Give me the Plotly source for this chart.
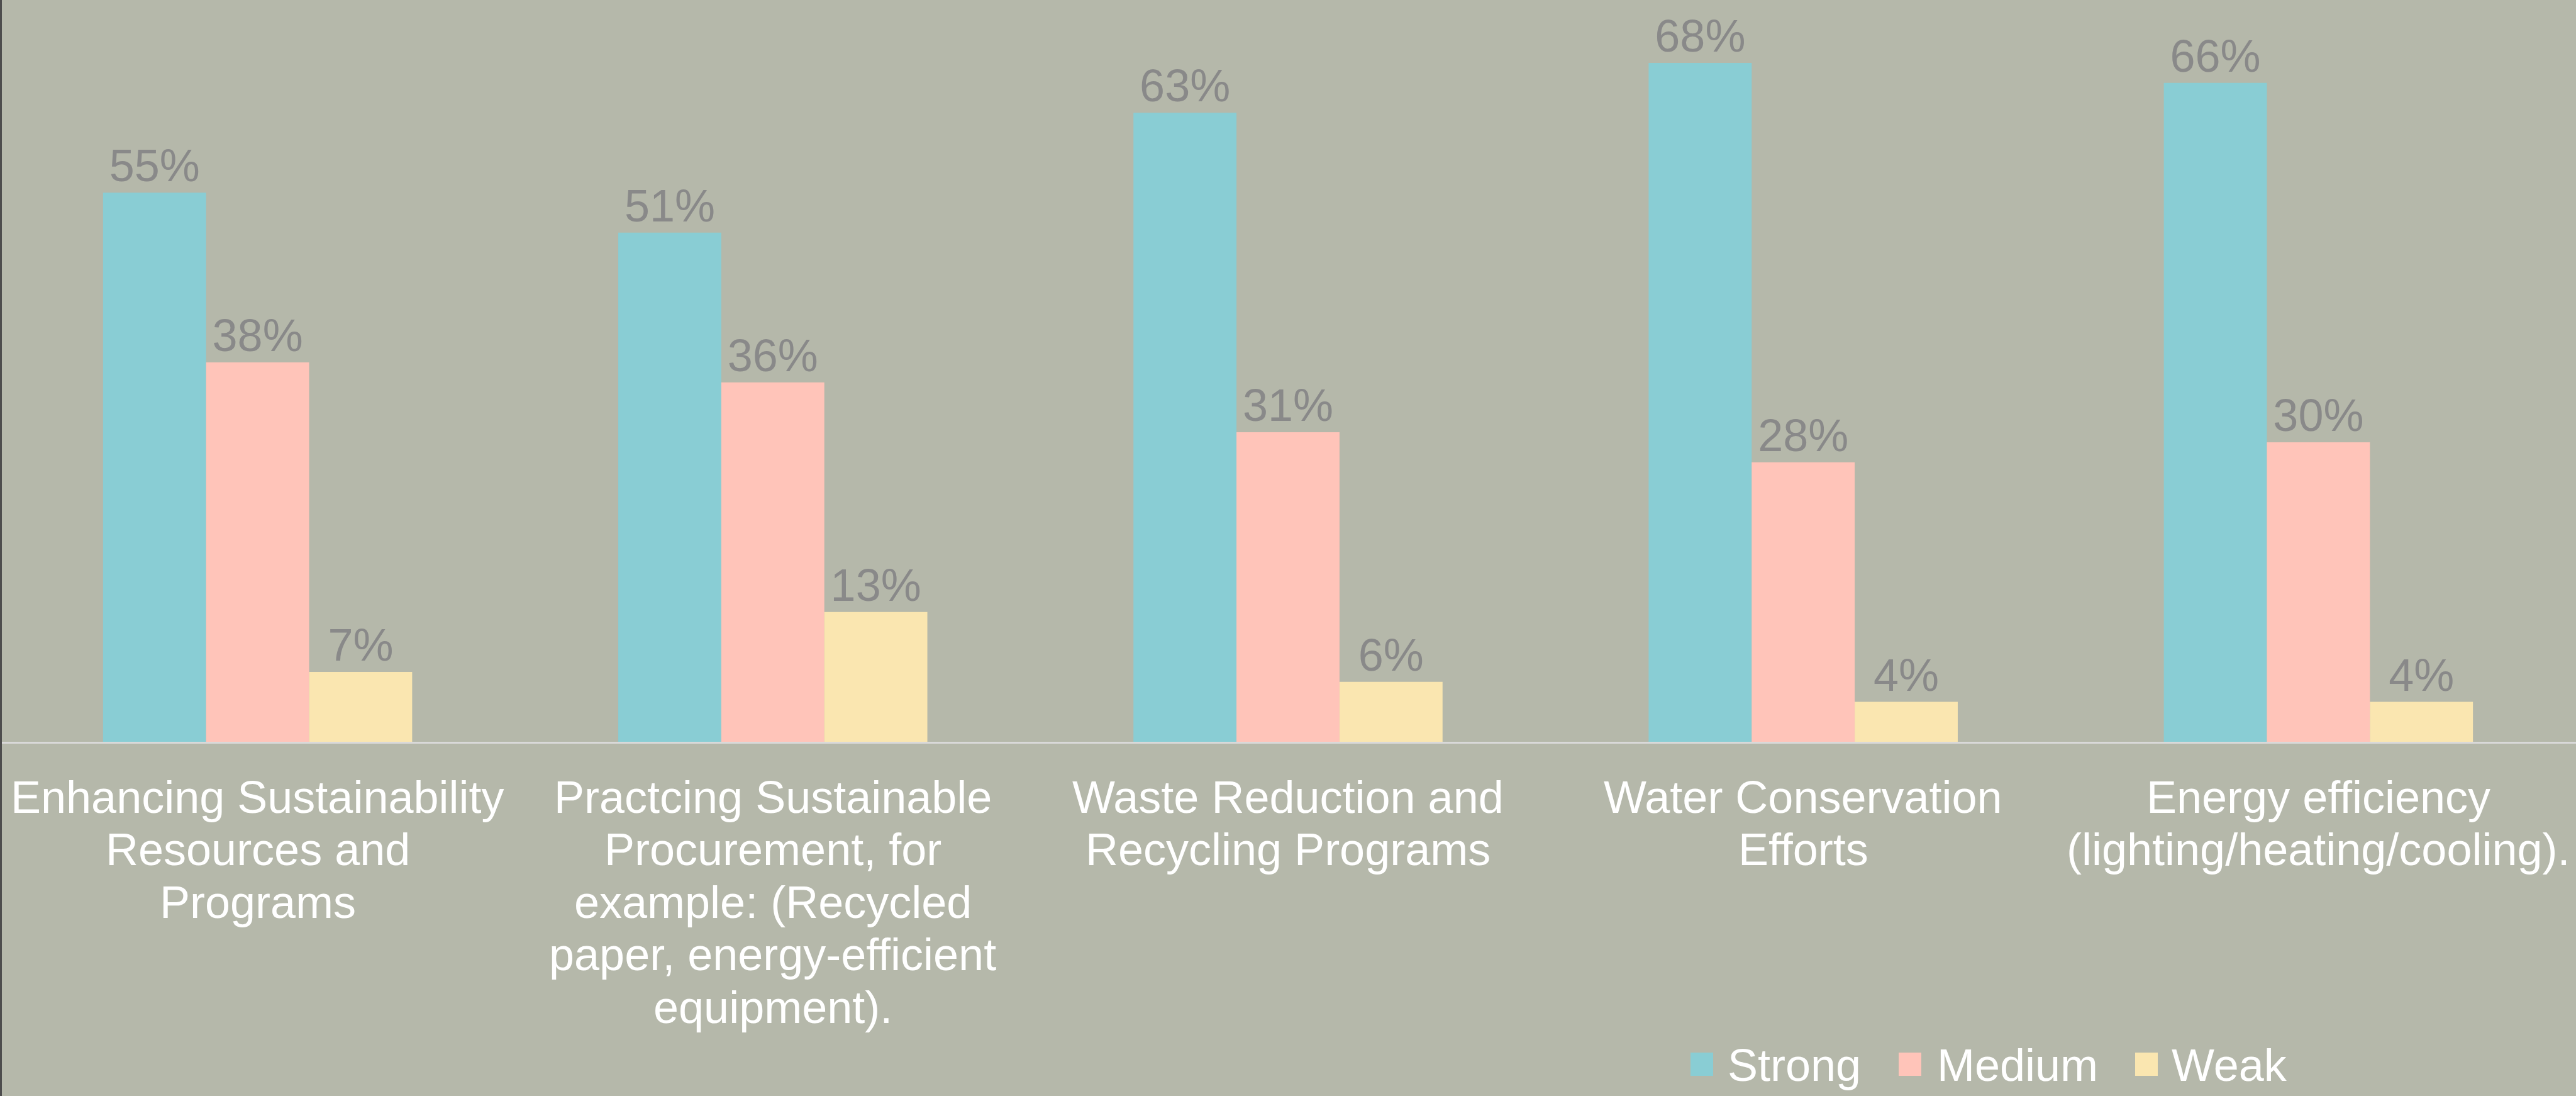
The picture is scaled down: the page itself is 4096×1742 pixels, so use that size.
import plotly.graph_objects as go

categories = [
    "Enhancing Sustainability<br>Resources and<br>Programs",
    "Practcing Sustainable<br>Procurement, for<br>example: (Recycled<br>paper, energy-efficient<br>equipment).",
    "Waste Reduction and<br>Recycling Programs",
    "Water Conservation<br>Efforts",
    "Energy efficiency<br>(lighting/heating/cooling).",
]
series_names = ["Strong", "Medium", "Weak"]
strong = [55, 51, 63, 68, 66]
medium = [38, 36, 31, 28, 30]
weak = [7, 13, 6, 4, 4]
colors = ["#89cdd4", "#ffc4b9", "#fae6b0"]

W, H = 4096, 1742
BASE = 1179  # px of x-axis baseline
FONT = "Liberation Sans, Arial, sans-serif"
FS = 72
BG = "#b5b8aa"

fig = go.Figure()
for name, vals, col in zip(series_names, [strong, medium, weak], colors):
    fig.add_trace(go.Bar(
        name=name, x=categories, y=vals, marker_color=col, marker_line_width=0,
        text=[f"{v}%" for v in vals], textposition="outside", cliponaxis=False,
        textfont=dict(family=FONT, size=FS, color="#898989"),
        showlegend=False,
    ))

def py(v):
    return (BASE - v) / BASE

def px(v):
    return v / W

shapes = [
    dict(type="line", xref="paper", yref="paper", x0=px(1.5), x1=px(1.5),
         y0=py(H), y1=1, line=dict(color="#4d4d4d", width=3)),
]
annotations = []

# category labels, one annotation per line (tighter line spacing like the original)
LINE0, LSTEP = 1267, 83.4
for cat in categories:
    for k, line in enumerate(cat.split("<br>")):
        annotations.append(dict(xref="x", yref="paper", x=cat, y=py(LINE0 + k * LSTEP),
                                xanchor="center", yanchor="middle", text=line,
                                showarrow=False,
                                font=dict(family=FONT, size=FS, color="white")))

legend_x = [(2688, 2745), (3019, 3078), (3395, 3451)]
for (sx, tx), name, col in zip(legend_x, series_names, colors):
    shapes.append(dict(type="rect", xref="paper", yref="paper",
                       x0=px(sx), x1=px(sx + 36), y0=py(1710), y1=py(1673),
                       fillcolor=col, line=dict(width=0)))
    annotations.append(dict(xref="paper", yref="paper", x=px(tx), y=py(1693),
                            xanchor="left", yanchor="middle", text=name, showarrow=False,
                            font=dict(family=FONT, size=FS, color="white")))

fig.update_layout(
    width=W, height=H,
    margin=dict(l=0, r=0, t=0, b=H - BASE, pad=0),
    paper_bgcolor=BG, plot_bgcolor=BG,
    barmode="group", bargap=0.4, bargroupgap=0,
    font=dict(family=FONT, size=FS, color="white"),
    xaxis=dict(showline=True, linecolor="#d9d9d9", linewidth=3, tickangle=0,
               ticks="", automargin=False, showgrid=False, showticklabels=False),
    yaxis=dict(range=[0, 74.3], visible=False, showgrid=False, zeroline=False),
    shapes=shapes, annotations=annotations,
)
fig.write_html("out.html", config={"displayModeBar": False},
               post_script="document.body.style.margin='0';document.body.style.overflow='hidden';")
